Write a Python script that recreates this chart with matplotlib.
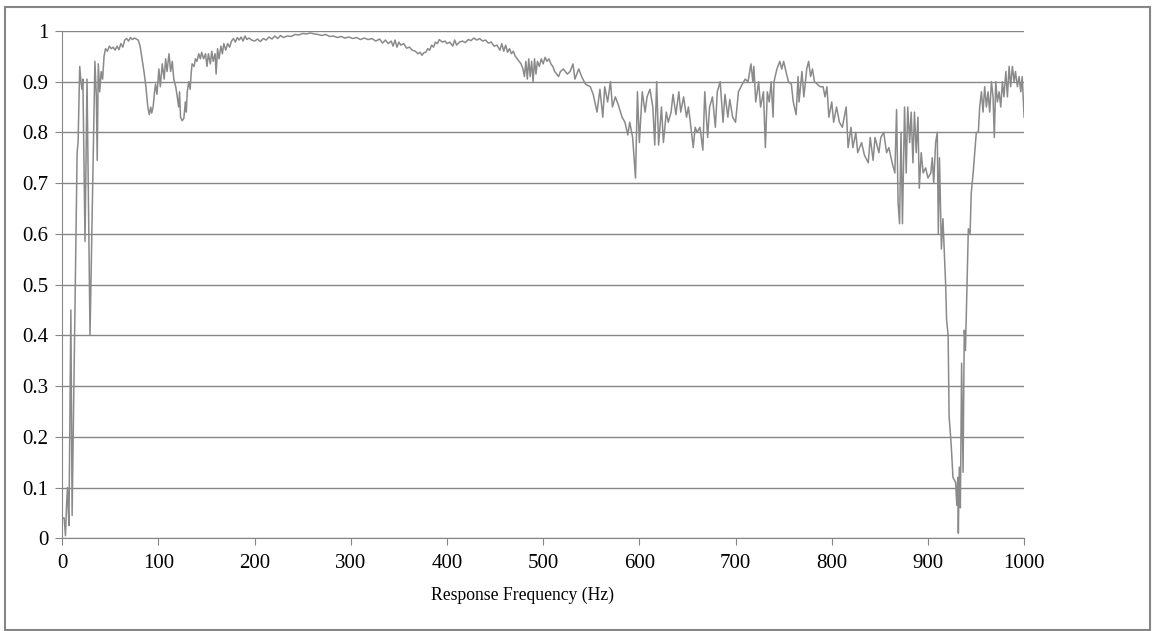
import matplotlib
matplotlib.use('Agg')
import matplotlib.pyplot as plt
from matplotlib.patches import Rectangle

plt.rcParams['font.family'] = ['Liberation Serif', 'DejaVu Serif']

# response, low band (0-170 Hz)
freq_low = [0, 2, 3.4, 4.5, 5.5, 6.2, 7, 9, 10.3, 15.5, 16.5, 18.2, 19.5, 20.5, 21.5, 23.7, 25.8, 28.9,
            34, 35.5, 36.4, 37.5, 39, 40.5, 42, 43.5, 45, 47, 49, 51, 53, 55, 57, 59, 61, 63, 65, 67, 69,
            71, 73, 75, 77, 79, 81, 83, 85, 87, 89, 90.5, 92, 93, 94.5, 96, 97, 98.5, 100.5, 102, 104,
            106, 107.5, 109, 111, 112.7, 114.4, 116, 118, 119.6, 121, 122, 123, 124.7, 126.5, 128, 129,
            130, 131.6, 133, 134, 135, 137, 138.5, 140, 142, 143.6, 145, 147, 149, 150.5, 152, 154,
            155.5, 157, 159, 160, 161.5, 163, 165, 166.5, 168]
resp_low = [0.04, 0.04, 0.005, 0.065, 0.1, 0.06, 0.025, 0.45, 0.045, 0.76, 0.78, 0.93, 0.9, 0.885, 0.905, 0.585, 0.905, 0.40,
            0.94, 0.87, 0.745, 0.935, 0.88, 0.92, 0.905, 0.95, 0.965, 0.96, 0.97, 0.965, 0.968, 0.962, 0.97, 0.963, 0.975, 0.968, 0.982, 0.985, 0.98,
            0.987, 0.983, 0.986, 0.984, 0.982, 0.97, 0.945, 0.92, 0.89, 0.85, 0.835, 0.85, 0.838, 0.85, 0.88, 0.895, 0.875, 0.925, 0.89, 0.935,
            0.905, 0.945, 0.92, 0.955, 0.92, 0.94, 0.905, 0.89, 0.87, 0.85, 0.88, 0.83, 0.823, 0.828, 0.86, 0.84,
            0.88, 0.9, 0.885, 0.915, 0.935, 0.93, 0.945, 0.94, 0.955, 0.945, 0.958, 0.945, 0.955, 0.93, 0.955, 0.935,
            0.96, 0.94, 0.955, 0.915, 0.965, 0.945, 0.97, 0.955, 0.975]

# mid band (170-470 Hz)
freq_mid = [170, 172, 174, 176, 178, 180, 182, 184, 186, 188, 190, 192, 194, 197, 200, 203, 206, 209, 212, 215,
            218, 221, 224, 227, 230, 234, 238, 242, 246, 250, 254, 258, 262, 266, 270, 274, 278, 282, 286, 290,
            294, 298, 302, 306, 310, 314, 318, 322, 326, 330, 333, 336, 339, 342, 344, 346, 348, 350, 352, 355,
            358, 361, 364, 367, 370, 372, 374, 376, 378, 380, 382, 384, 386, 388, 390, 392, 395, 398, 400, 403,
            406, 408, 410, 413, 416, 419, 422, 425, 428, 431, 434, 437, 440, 443, 446, 449, 452, 455, 457, 459,
            461, 463, 465, 467, 469]
resp_mid = [0.962, 0.975, 0.968, 0.98, 0.985, 0.978, 0.987, 0.982, 0.988, 0.98, 0.99, 0.983, 0.986, 0.982, 0.98, 0.984, 0.979, 0.985, 0.982, 0.988,
            0.984, 0.99, 0.985, 0.991, 0.987, 0.99, 0.989, 0.993, 0.992, 0.995, 0.994, 0.996, 0.994, 0.993, 0.991, 0.993, 0.989, 0.99, 0.987, 0.989,
            0.986, 0.988, 0.985, 0.987, 0.983, 0.986, 0.983, 0.985, 0.98, 0.984, 0.976, 0.982, 0.975, 0.98, 0.97, 0.982, 0.968, 0.978, 0.972, 0.975,
            0.966, 0.968, 0.962, 0.96, 0.955, 0.958, 0.952, 0.957, 0.958, 0.965, 0.962, 0.972, 0.968, 0.978, 0.975, 0.983, 0.978, 0.98, 0.975, 0.978,
            0.97, 0.982, 0.972, 0.978, 0.98, 0.977, 0.983, 0.981, 0.986, 0.982, 0.985, 0.98, 0.982, 0.976, 0.978, 0.97, 0.972, 0.962, 0.975, 0.96,
            0.972, 0.958, 0.965, 0.955, 0.96]

# high band (470-1000 Hz)
freq_high = [471, 473, 475, 477, 479, 480.5, 482, 483.5, 485, 486.5, 488, 489.5, 491, 492.5, 494, 496, 498, 500, 502, 504,
             506, 508, 510, 512, 514, 516, 518, 521, 525, 528, 531, 533, 537, 540, 544, 549, 552, 556, 559, 562,
             564, 567, 570, 572, 575, 578, 582, 585, 588, 590, 593, 596, 598, 600, 603, 606, 608, 611, 614, 616,
             618, 620, 623, 625, 628, 630, 633, 635, 638, 641, 643, 646, 649, 651, 653, 656, 658, 660, 663, 666,
             668, 671, 673, 676, 679, 681, 684, 687, 689, 692, 694, 697, 700, 703, 707, 710, 713, 716, 718, 719,
             721, 724, 726, 729, 731, 733, 735, 737, 739, 740, 743, 746, 748, 750, 753, 755, 758, 760, 763, 765,
             766, 769, 771, 774, 776, 778, 780, 782, 785, 788, 791, 793, 795, 797, 800, 802, 805, 808, 811, 815,
             817, 820, 822, 825, 827, 831, 834, 838, 840, 843, 845, 849, 851, 854, 857, 859.4, 862.8, 865.6, 867.4, 869,
             870.5, 872, 873.5, 875.7, 877.4, 879, 881, 882.6, 884.4, 886, 887.8, 889.6, 891, 893, 895, 897.6, 900, 903, 904.5, 906,
             908, 909.7, 910.8, 912, 914, 915.6, 918.4, 919.4, 921, 922, 923.6, 924.6, 926, 928.8, 930, 931, 931.6, 932.6, 933.7, 935,
             936.5, 937.8, 939, 940.6, 942, 943.8, 945, 947, 948.6, 950.3, 952.4, 953.8, 955.6, 957.3, 959, 960.8, 962.5, 964.2, 966, 967.7,
             969, 970.5, 972.2, 974, 975.7, 977.4, 979, 981, 982.6, 984.4, 986, 987.8, 989.6, 991, 993, 994.8, 996.5, 998, 1000]
resp_high = [0.95, 0.945, 0.94, 0.935, 0.925, 0.91, 0.94, 0.905, 0.945, 0.91, 0.94, 0.9, 0.945, 0.915, 0.94, 0.93, 0.945, 0.935, 0.948, 0.94,
             0.945, 0.935, 0.93, 0.92, 0.915, 0.91, 0.92, 0.925, 0.915, 0.92, 0.935, 0.905, 0.925, 0.91, 0.895, 0.89, 0.875, 0.84, 0.885, 0.83,
             0.89, 0.86, 0.9, 0.85, 0.87, 0.855, 0.83, 0.82, 0.795, 0.82, 0.79, 0.71, 0.88, 0.78, 0.88, 0.84, 0.87, 0.885, 0.85, 0.775,
             0.9, 0.775, 0.85, 0.78, 0.84, 0.82, 0.84, 0.875, 0.835, 0.88, 0.84, 0.87, 0.83, 0.85, 0.82, 0.77, 0.81, 0.8, 0.81, 0.765,
             0.88, 0.79, 0.85, 0.87, 0.81, 0.88, 0.9, 0.82, 0.875, 0.83, 0.865, 0.83, 0.82, 0.88, 0.895, 0.905, 0.9, 0.935, 0.9, 0.93,
             0.86, 0.9, 0.85, 0.88, 0.77, 0.88, 0.86, 0.9, 0.83, 0.9, 0.925, 0.94, 0.925, 0.94, 0.915, 0.9, 0.895, 0.86, 0.835, 0.91,
             0.86, 0.92, 0.87, 0.925, 0.94, 0.91, 0.925, 0.9, 0.895, 0.89, 0.89, 0.87, 0.89, 0.83, 0.86, 0.82, 0.85, 0.82, 0.81, 0.85,
             0.77, 0.81, 0.77, 0.8, 0.76, 0.78, 0.755, 0.74, 0.79, 0.745, 0.79, 0.76, 0.79, 0.8, 0.76, 0.77, 0.74, 0.72, 0.845, 0.66,
             0.62, 0.8, 0.62, 0.85, 0.72, 0.85, 0.78, 0.84, 0.74, 0.84, 0.76, 0.83, 0.69, 0.76, 0.72, 0.73, 0.71, 0.72, 0.75, 0.7,
             0.78, 0.8, 0.6, 0.75, 0.57, 0.63, 0.5, 0.43, 0.4, 0.24, 0.2, 0.17, 0.12, 0.11, 0.065, 0.12, 0.01, 0.14, 0.06, 0.345,
             0.13, 0.41, 0.37, 0.5, 0.61, 0.6, 0.68, 0.72, 0.76, 0.8, 0.8, 0.85, 0.88, 0.84, 0.89, 0.85, 0.88, 0.84, 0.9, 0.87,
             0.79, 0.9, 0.86, 0.88, 0.85, 0.9, 0.87, 0.92, 0.87, 0.93, 0.89, 0.93, 0.9, 0.92, 0.89, 0.91, 0.88, 0.91, 0.83]

freq = freq_low + freq_mid + freq_high
resp = resp_low + resp_mid + resp_high

x_ticks = list(range(0, 1001, 100))
y_ticks = [0, 0.1, 0.2, 0.3, 0.4, 0.5, 0.6, 0.7, 0.8, 0.9, 1]
y_labels = ['0', '0.1', '0.2', '0.3', '0.4', '0.5', '0.6', '0.7', '0.8', '0.9', '1']

fig = plt.figure(figsize=(11.52, 6.31), dpi=100)
ax = fig.add_axes([0.054, 0.147, 0.835, 0.804])

ax.plot(freq, resp, color='#8a8a8a', lw=1.1)

ax.set_xlim(0, 1000)
ax.set_ylim(0, 1)
ax.set_xticks(x_ticks)
ax.set_yticks(y_ticks)
ax.set_yticklabels(y_labels)
ax.yaxis.grid(True, color='#868686', lw=1.0)
ax.set_axisbelow(True)

for s in ['top', 'right']:
    ax.spines[s].set_visible(False)
ax.spines['left'].set_color('#868686')
ax.spines['bottom'].set_color('#868686')
ax.tick_params(axis='both', colors='#868686', labelcolor='black', labelsize=15, length=5, direction='out')
ax.tick_params(axis='x', pad=6)
ax.tick_params(axis='y', pad=5)

ax.set_xlabel('Response Frequency (Hz)', fontsize=12.7, labelpad=8)
ax.xaxis.set_label_coords(0.479, -0.095)

# outer chart border
fig.patches.append(Rectangle((0.004, 0.002), 0.994, 0.987, transform=fig.transFigure,
                             fill=False, edgecolor='#868686', lw=1.5))

fig.savefig('out.png', dpi=100)
